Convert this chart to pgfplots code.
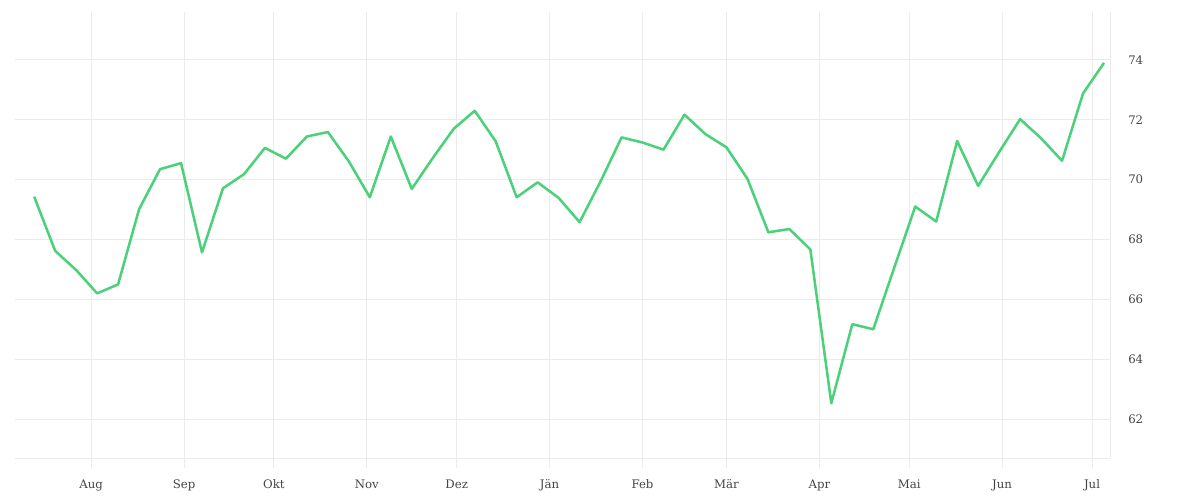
\documentclass[border=0pt]{standalone}
\usepackage{fontspec}
\setmainfont{DejaVu Serif}
\usepackage{pgfplots}
\pgfplotsset{compat=1.18}
\definecolor{linegreen}{HTML}{4CD17B}
\definecolor{gridgray}{HTML}{EBEBEB}
\definecolor{labelgray}{HTML}{444444}

\begin{document}
\begin{tikzpicture}
% 1px = 0.75pt, picture 1200x500 px
\useasboundingbox (-11.25pt,-31.5pt) rectangle (888.75pt,343.5pt);
\begin{axis}[
    at={(0,0)}, anchor=south west,
    scale only axis,
    width=821.25pt, height=334.5pt,
    xmin=-25.4, xmax=340, ymin=60.7, ymax=75.6,
    axis x line=bottom, axis y line=right,
    axis line style={-, gridgray, line width=0.75pt},
    xtick={0,31,61,92,122,153,184,212,243,273,304,334},
    xticklabels={Aug,Sep,Okt,Nov,Dez,Jän,Feb,Mär,Apr,Mai,Jun,Jul},
    ytick={62,64,...,74},
    grid=major,
    major grid style={gridgray, line width=0.75pt},
    tick align=outside,
    major tick length=7.5pt,
    xtick style={gridgray, line width=0.75pt},
    ytick style={draw=none},
    /pgf/number format/assume math mode=true,
    ticklabel style={font=\fontsize{8.8}{10}\selectfont, text=labelgray, inner sep=0pt},
    xticklabel style={anchor=base, yshift=-15pt},
    yticklabel style={anchor=west, xshift=6pt},
    clip=false,
  ]
  \addplot[linegreen, line width=1.9pt, line join=round] coordinates {
    (-19,69.43) (-12,67.62) (-5,66.98) (2,66.20) (9,66.50) (16,69.01)
    (23,70.35) (30,70.55) (37,67.57) (44,69.71) (51,70.18) (58,71.06)
    (65,70.70) (72,71.44) (79,71.59) (86,70.61) (93,69.41) (100,71.44)
    (107,69.69) (114,70.72) (121,71.70) (128,72.30) (135,71.28) (142,69.41)
    (149,69.91) (156,69.39) (163,68.58) (170,69.94) (177,71.41) (184,71.24)
    (191,71.00) (198,72.17) (205,71.52) (212,71.08) (219,70.03) (226,68.24)
    (233,68.35) (240,67.67) (247,62.53) (254,65.17) (261,65.00) (268,67.06)
    (275,69.10) (282,68.60) (289,71.29) (296,69.79) (303,70.92) (310,72.02)
    (317,71.38) (324,70.63) (331,72.88) (338,73.90)
  };
\end{axis}
\end{tikzpicture}
\end{document}
